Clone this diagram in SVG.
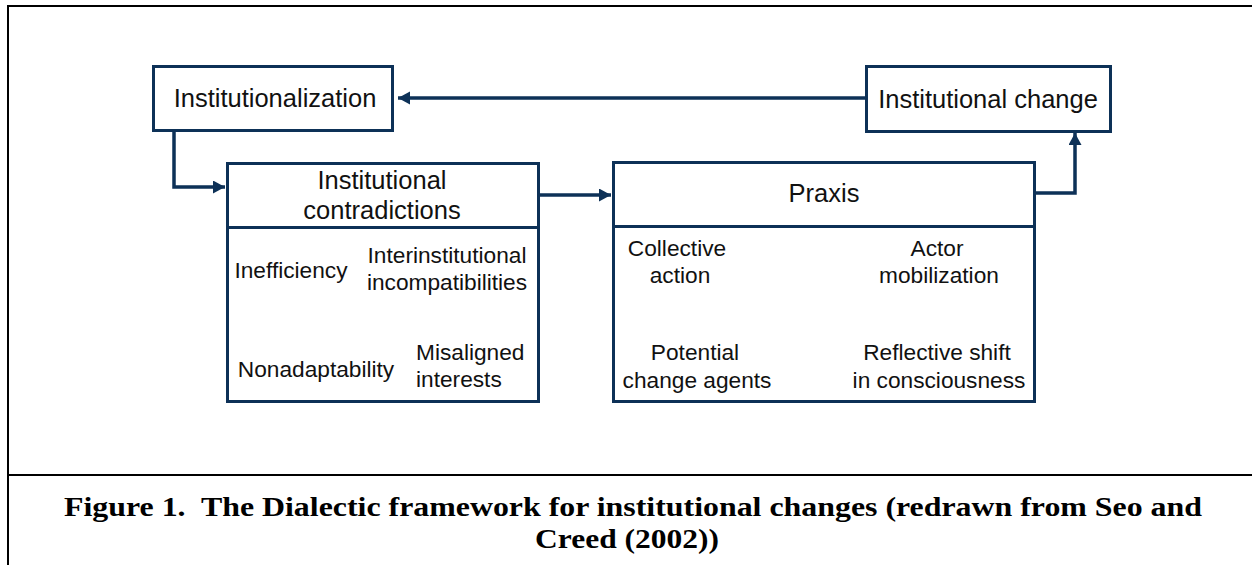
<svg xmlns="http://www.w3.org/2000/svg" width="1252" height="565" viewBox="0 0 1252 565">
<defs>
<style>
.box{fill:#fff;stroke:#0d3157;stroke-width:3}
.div{stroke:#0d3157;stroke-width:3}
.conn{fill:none;stroke:#0d3157;stroke-width:3.5}
.inner{fill:none;stroke:#0d3157;stroke-width:2.6}
.h{font-family:"Liberation Sans",Arial,sans-serif;font-size:25.5px;fill:#111;text-anchor:middle}
.t{font-family:"Liberation Sans",Arial,sans-serif;font-size:22.7px;fill:#111;text-anchor:middle}
.l{text-anchor:start}
.cap{font-family:"Liberation Serif","Times New Roman",serif;font-weight:bold;font-size:27px;fill:#000;text-anchor:middle}
.frame{fill:none;stroke:#000;stroke-width:2}
</style>
<marker id="ah" markerUnits="userSpaceOnUse" markerWidth="14" markerHeight="14" refX="12" refY="6.5" orient="auto">
<path d="M0,0 L12,6.5 L0,13 z" fill="#0d3157"/>
</marker>
<marker id="ahs" markerUnits="userSpaceOnUse" markerWidth="12" markerHeight="12" refX="10" refY="5.5" orient="auto">
<path d="M0,0 L10,5.5 L0,11 z" fill="#0d3157"/>
</marker>
</defs>
<rect width="1252" height="565" fill="#fff"/>
<g id="frame">
<path class="frame" d="M8,565 V6 H1252"/>
<path class="frame" d="M8,475 H1252"/>
</g>
<g id="connectors">
<path class="conn" d="M866,98 H398" marker-end="url(#ah)"/>
<path class="conn" d="M174,131 V187 H225" marker-end="url(#ah)"/>
<path class="conn" d="M539,195 H611" marker-end="url(#ah)"/>
<path class="conn" d="M1036,193 H1075 V133" marker-end="url(#ah)"/>
<path class="inner" d="M842,270 H774" marker-end="url(#ahs)"/>
<path class="inner" d="M938,335 V294" marker-end="url(#ahs)"/>
<path class="inner" d="M777,365 H844" marker-end="url(#ahs)"/>
</g>
<g id="institutionalization">
<rect class="box" x="153.5" y="66.5" width="239" height="64"/>
<text class="h" x="275" y="107">Institutionalization</text>
</g>
<g id="institutional-change">
<rect class="box" x="866.5" y="66.5" width="244" height="65"/>
<text class="h" x="988" y="108">Institutional change</text>
</g>
<g id="institutional-contradictions">
<rect class="box" x="227.5" y="163.5" width="311" height="238"/>
<line class="div" x1="227.5" y1="227.5" x2="538.5" y2="227.5"/>
<text class="h" x="382" y="189">Institutional</text>
<text class="h" x="382" y="219">contradictions</text>
</g>
<g id="inefficiency"><text class="t" x="291" y="278">Inefficiency</text></g>
<g id="interinstitutional"><text class="t" x="447" y="263">Interinstitutional</text><text class="t" x="447" y="290">incompatibilities</text></g>
<g id="nonadaptability"><text class="t" x="316" y="377">Nonadaptability</text></g>
<g id="misaligned"><text class="t l" x="416" y="360">Misaligned</text><text class="t l" x="416" y="387">interests</text></g>
<g id="praxis">
<rect class="box" x="613.5" y="162.5" width="421" height="239"/>
<line class="div" x1="613.5" y1="226.5" x2="1034.5" y2="226.5"/>
<text class="h" x="824" y="202">Praxis</text>
</g>
<g id="collective-action"><text class="t" x="677" y="256">Collective</text><text class="t" x="680" y="283">action</text></g>
<g id="actor-mobilization"><text class="t" x="937" y="256">Actor</text><text class="t" x="939" y="283">mobilization</text></g>
<g id="potential-change-agents"><text class="t" x="695" y="360">Potential</text><text class="t" x="697" y="388">change agents</text></g>
<g id="reflective-shift"><text class="t" x="937" y="360">Reflective shift</text><text class="t" x="939" y="388">in consciousness</text></g>
<g id="caption">
<text class="cap" x="633" y="516" textLength="1138" lengthAdjust="spacingAndGlyphs" xml:space="preserve">Figure 1.  The Dialectic framework for institutional changes (redrawn from Seo and</text>
<text class="cap" x="627" y="548" textLength="184" lengthAdjust="spacingAndGlyphs">Creed (2002))</text>
</g>
</svg>
